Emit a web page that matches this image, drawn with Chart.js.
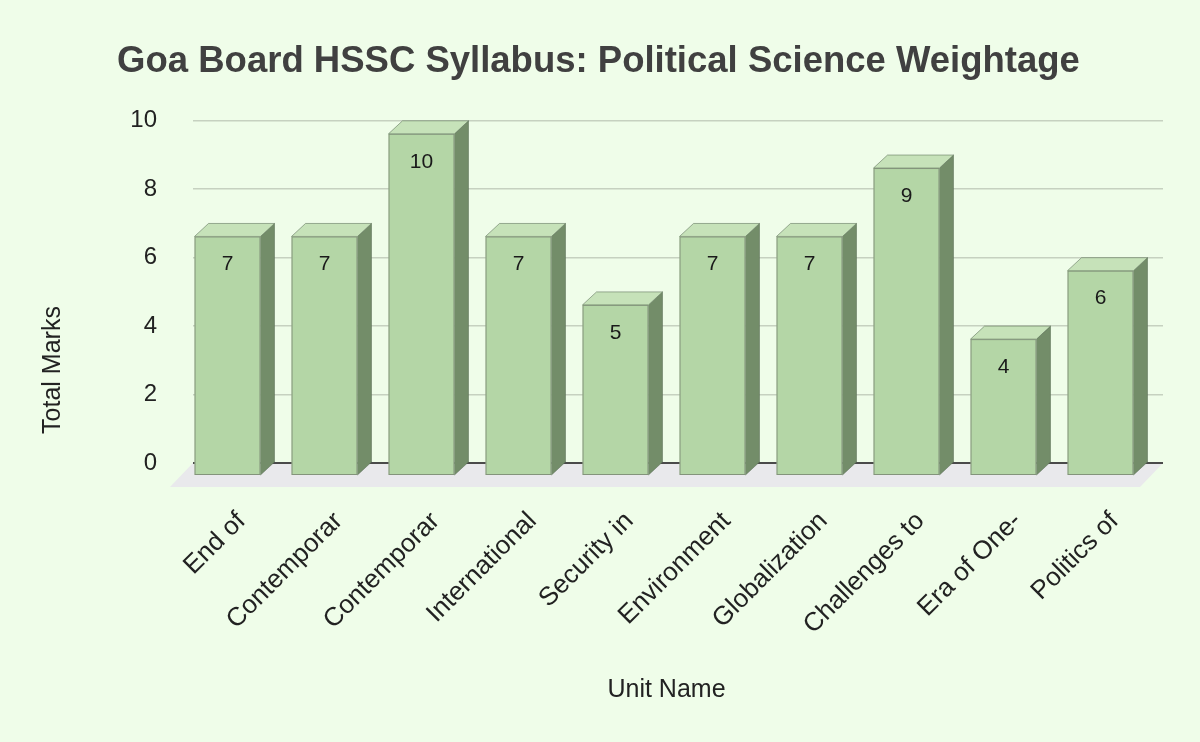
<!DOCTYPE html>
<html><head><meta charset="utf-8">
<script src="https://cdn.jsdelivr.net/npm/chart.js@4.4.0/dist/chart.umd.min.js"></script>
<style>html,body{margin:0;padding:0;background:#effde9;}</style>
</head><body>
<canvas id="c" width="1200" height="742"></canvas>
<script>
const chartTitle = "Goa Board HSSC Syllabus: Political Science Weightage";
const xAxisTitle = "Unit Name";
const yAxisTitle = "Total Marks";
const units = ["End of","Contemporar","Contemporar","International","Security in","Environment","Globalization","Challenges to","Era of One-","Politics of"];
const totalMarks = [7,7,10,7,5,7,7,9,4,6];
const yMin = 0, yMax = 10, yStep = 2;

const FONT = '"Liberation Sans", Arial, sans-serif';
const DX = 14, DY = 13;      // bar depth
const FDX = 23, FDY = 24;    // floor depth

const bg3d = {
  id: 'bg3d',
  beforeDraw(chart) {
    const {ctx, chartArea: a} = chart;
    ctx.save();
    ctx.fillStyle = '#effde9';
    ctx.fillRect(0, 0, chart.width, chart.height);
    const base = chart.scales.y.getPixelForValue(0);
    ctx.fillStyle = '#e9e9ec';
    ctx.beginPath();
    ctx.moveTo(a.left, base);
    ctx.lineTo(a.right, base);
    ctx.lineTo(a.right - FDX, base + FDY);
    ctx.lineTo(a.left - FDX, base + FDY);
    ctx.closePath();
    ctx.fill();
    ctx.restore();
  },
  afterDatasetsDraw(chart) {
    const {ctx, chartArea: a} = chart;
    const meta = chart.getDatasetMeta(0);
    ctx.save();
    meta.data.forEach((el, i) => {
      const w = el.width;
      const x0 = el.x - w / 2, x1 = el.x + w / 2;
      const yt = el.y, yb = el.base;
      ctx.lineWidth = 1;
      ctx.strokeStyle = 'rgba(90,110,85,0.55)';
      // side face
      ctx.fillStyle = '#738d69';
      ctx.beginPath();
      ctx.moveTo(x1 - DX, yt + DY);
      ctx.lineTo(x1, yt);
      ctx.lineTo(x1, yb);
      ctx.lineTo(x1 - DX, yb + DY);
      ctx.closePath();
      ctx.fill(); ctx.stroke();
      // top face
      ctx.fillStyle = '#c6e2b9';
      ctx.beginPath();
      ctx.moveTo(x0 - DX, yt + DY);
      ctx.lineTo(x0, yt);
      ctx.lineTo(x1, yt);
      ctx.lineTo(x1 - DX, yt + DY);
      ctx.closePath();
      ctx.fill(); ctx.stroke();
      // front face
      ctx.fillStyle = '#b4d6a6';
      ctx.fillRect(x0 - DX, yt + DY, w, yb - yt);
      ctx.strokeStyle = 'rgba(110,120,105,0.7)';
      ctx.strokeRect(x0 - DX + 0.5, yt + DY + 0.5, w - 1, yb - yt - 1);
      // value label
      ctx.fillStyle = '#1a1a1a';
      ctx.font = '21px ' + FONT;
      ctx.textAlign = 'center';
      ctx.textBaseline = 'middle';
      ctx.fillText(String(totalMarks[i]), el.x - DX, yt + DY + 28);
    });
    // axis titles
    ctx.fillStyle = '#222';
    ctx.font = '25px ' + FONT;
    ctx.textAlign = 'center';
    ctx.textBaseline = 'middle';
    ctx.fillText(xAxisTitle, (a.left - FDX + a.right) / 2, 690);
    ctx.translate(53, 370);
    ctx.rotate(-Math.PI / 2);
    ctx.fillText(yAxisTitle, 0, 0);
    ctx.restore();
  }
};

new Chart(document.getElementById('c'), {
  type: 'bar',
  data: {
    labels: units,
    datasets: [{
      label: 'Total Marks',
      data: totalMarks,
      backgroundColor: 'rgba(0,0,0,0)',
      borderWidth: 0,
      barPercentage: 0.68,
      categoryPercentage: 1.0
    }]
  },
  options: {
    responsive: false,
    animation: false,
    devicePixelRatio: 1,
    layout: { padding: { left: 34, right: 37, top: 0, bottom: 33 } },
    plugins: {
      legend: { display: false },
      tooltip: { enabled: false },
      title: {
        display: true,
        text: chartTitle,
        color: '#404040',
        font: { family: FONT, size: 36.5, weight: 'bold' },
        padding: { top: 40, bottom: 37 }
      }
    },
    scales: {
      x: {
        grid: { display: false, drawTicks: false },
        border: { display: false },
        ticks: {
          color: '#222',
          font: { family: FONT, size: 26 },
          maxRotation: 45, minRotation: 45,
          autoSkip: false,
          padding: 43
        },
        title: { display: false, text: xAxisTitle },
        afterFit(s) { s.height = 246; }
      },
      y: {
        min: yMin, max: yMax,
        grid: {
          drawTicks: false,
          color: c => c.tick && c.tick.value === 0 ? '#4a4a4a' : '#c6d1c0',
          lineWidth: c => c.tick && c.tick.value === 0 ? 2 : 1.5
        },
        border: { display: false },
        ticks: {
          stepSize: yStep,
          color: '#222',
          font: { family: FONT, size: 24 },
          padding: 36
        },
        title: { display: false, text: yAxisTitle },
        afterFit(s) { s.width = 159; }
      }
    }
  },
  plugins: [bg3d]
});
</script>
</body></html>
